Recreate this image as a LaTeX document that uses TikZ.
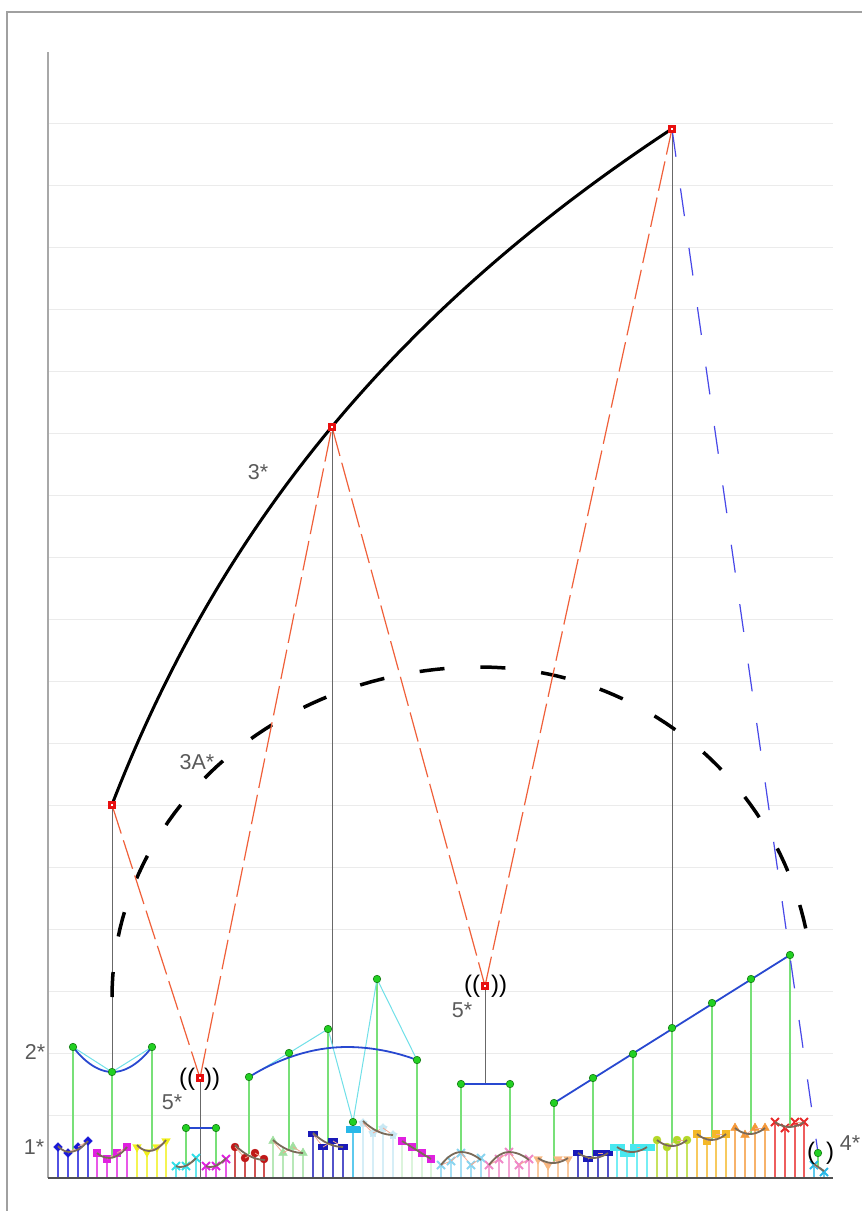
\documentclass[tikz,border=0pt]{standalone}
\usepackage{fontspec}
\setmainfont{Liberation Sans}
\usepackage{tikz}
\usetikzlibrary{
  shapes.geometric,
  shapes.misc
}
\definecolor{frGray}{HTML}{A0A0A0}
\definecolor{grGray}{HTML}{EBEBEB}
\definecolor{axGray}{HTML}{A8A8A8}
\definecolor{axDark}{HTML}{505050}
\definecolor{drGray}{HTML}{686868}
\definecolor{zigRed}{HTML}{F0603A}
\definecolor{dashBlue}{HTML}{4848E8}
\definecolor{sqRed}{HTML}{E81010}
\definecolor{dotGreen}{HTML}{22D022}
\definecolor{stalkGreen}{HTML}{78E078}
\definecolor{fitBlue}{HTML}{2848D0}
\definecolor{polyCyan}{HTML}{70E0E8}
\definecolor{fitBrown}{HTML}{7A6A58}
\definecolor{linkSalmon}{HTML}{F4A890}
\definecolor{lblGray}{HTML}{5A5A5A}
\definecolor{gBlue}{HTML}{1818D8}
\definecolor{gMag}{HTML}{E020E0}
\definecolor{gYel}{HTML}{F0F018}
\definecolor{gCyan}{HTML}{30E0E8}
\definecolor{gDkRed}{HTML}{C01818}
\definecolor{gPaleGrn}{HTML}{A0E0A0}
\definecolor{gNavy}{HTML}{1A1AB8}
\definecolor{gSky}{HTML}{28B8E8}
\definecolor{gIce}{HTML}{C8E8F4}
\definecolor{gPaleStem}{HTML}{D0F0D0}
\definecolor{gLtBlue}{HTML}{88D4F0}
\definecolor{gPink}{HTML}{F088C8}
\definecolor{gPeach}{HTML}{F8B880}
\definecolor{gAqua}{HTML}{48E8F0}
\definecolor{gLime}{HTML}{B4D828}
\definecolor{gAmber}{HTML}{F4B828}
\definecolor{gOrange}{HTML}{F49838}
\definecolor{gRed}{HTML}{E82828}
\tikzset{
  frameline/.style={draw=frGray, line width=1.5pt},
  gridline/.style={draw=grGray, line width=1pt},
  yaxisline/.style={draw=axGray, line width=1.5pt},
  xaxisline/.style={draw=axDark, line width=1.5pt},
  dropline/.style={draw=drGray, line width=1pt},
  stalk/.style={draw=stalkGreen, line width=1.3pt},
  stemline/.style={draw=#1!75, line width=1.3pt},
  linkline/.style={draw=linkSalmon, line width=0.8pt},
  brownfit/.style={draw=fitBrown, line width=1.8pt},
  bluefit/.style={draw=fitBlue, line width=1.8pt},
  cyanpoly/.style={draw=polyCyan, line width=1pt},
  trend/.style={draw=black, line width=3pt},
  trendA/.style={draw=black, line width=3.5pt, dash pattern=on 25pt off 36pt},
  zig/.style={draw=zigRed, line width=1.2pt, dash pattern=on 30pt off 7pt},
  bluedash/.style={draw=dashBlue, line width=1.2pt, dash pattern=on 28pt off 32pt},
  topsq/.style={rectangle, draw=sqRed, fill=white, line width=2.6pt, minimum size=5pt, inner sep=0pt},
  gdot/.style={circle, fill=dotGreen, draw=dotGreen!60!black, line width=0.6pt, minimum size=7.5pt, inner sep=0pt},
  lbl/.style={text=lblGray, font=\fontsize{21.5}{23}\selectfont, inner sep=0pt},
  paren/.style={text=black, font=\fontsize{24}{26}\selectfont, inner sep=0pt},
  mdia/.style={diamond, fill=#1, draw=#1, inner sep=0pt, minimum size=9pt},
  msq/.style={rectangle, fill=#1, draw=#1, inner sep=0pt, minimum size=7pt},
  mcirc/.style={circle, fill=#1, draw=#1, inner sep=0pt, minimum size=8pt},
  mtri/.style={regular polygon, regular polygon sides=3, fill=#1, draw=#1, inner sep=0pt, minimum size=10pt},
  mtrid/.style={mtri=#1, shape border rotate=180},
  mx/.style={cross out, draw=#1, line width=2pt, inner sep=0pt, minimum size=6pt},
  mbar/.style={rectangle, fill=#1, draw=#1, inner sep=0pt, minimum width=9pt, minimum height=5pt},
  mwbar/.style={rectangle, fill=#1, draw=#1, inner sep=0pt, minimum width=14pt, minimum height=6pt},
  mstar/.style={star, star points=5, fill=#1, draw=#1, inner sep=0pt, minimum size=9pt}
}
\newcommand{\stemgroup}[4]{%
  \foreach \sx/\sy [count=\si, remember=\sx as \lx, remember=\sy as \ly] in {#4} {
    \draw[stemline=#1] (\sx,\sy) -- (\sx,1178);
    \ifnum\si>1 \draw[linkline] (\lx,\ly) -- (\sx,\sy); \fi
    \node[#2=#3] (m\sx) at (\sx,\sy) {};
  }}

\begin{document}
\begin{tikzpicture}[x=1pt, y=-1pt]
  \useasboundingbox (0,0) rectangle (862,1211);
  \fill[white] (0,0) rectangle (862,1211);
  \draw[frameline] (862,12) -- (7,12) -- (7,1211);
  \foreach \g in {123,185,...,1115} \draw[gridline] (48,\g) -- (833,\g);
  \draw[yaxisline] (48,52) -- (48,1178);

  \coordinate (pA) at (112,805);
  \coordinate (pB) at (332,427);
  \coordinate (pC) at (672,129);
  \coordinate (pP1) at (200,1078);
  \coordinate (pP2) at (485,986);
  \coordinate (bB) at (332,1048);
  \coordinate (bTop) at (347,1047);
  \coordinate (bP1) at (200,1178);
  \coordinate (bP2) at (485,1084);
  \foreach \n/\x/\y/\b in {1/73/1047/1150, 2/112/1072/1157, 3/152/1047/1150,
      4/186/1128/1165, 5/216/1128/1165, 6/249/1077/1154, 7/289/1053/1149,
      8/328/1029/1143, 9/353/1122/1127, 10/377/979/1130, 11/417/1060/1150,
      12/461/1084/1153, 13/510/1084/1152, 14/554/1103/1163, 15/593/1078/1158,
      16/633/1054/1152, 17/672/1028/1146, 18/712/1003/1140, 19/751/979/1134,
      20/790/955/1127, 21/818/1153/1168} {
    \coordinate (d\n) at (\x,\y);
    \coordinate (f\n) at (\x,\b);
  }

  \draw[dropline] (pA) -- (d2);
  \draw[dropline] (pB) -- (bB);
  \draw[dropline] (pC) -- (d17);
  \draw[dropline] (pP1) -- (bP1);
  \draw[dropline] (pP2) -- (bP2);
  \foreach \n in {1,...,21} \draw[stalk] (d\n) -- (f\n);

  \stemgroup{gBlue}{mdia}{gBlue}{58/1147,68/1153,78/1147,88/1141}
  \stemgroup{gMag}{msq}{gMag}{97/1153,107/1159,117/1153,127/1147}
  \stemgroup{gYel}{mtrid}{gYel}{137/1147,147/1152,157/1147,166/1141}
  \stemgroup{gCyan}{mx}{gCyan}{176/1166,186/1166,196/1158}
  \stemgroup{gMag}{mx}{gMag}{206/1166,216/1166,226/1159}
  \stemgroup{gDkRed}{mcirc}{gDkRed}{235/1147,245/1158,255/1153,264/1159}
  \stemgroup{gPaleGrn}{mtri}{gPaleGrn}{273/1141,283/1153,293/1147,303/1153}
  \stemgroup{gNavy}{mbar}{gNavy}{313/1134,323/1147,333/1141,343/1147}
  \stemgroup{gSky}{mwbar}{gSky}{353/1129}
  \stemgroup{gIce}{mstar}{gIce}{363/1123,373/1133,383/1128,393/1135}
  \stemgroup{gPaleStem}{msq}{gMag}{402/1141,412/1147,422/1153,431/1159}
  \stemgroup{gLtBlue}{mx}{gLtBlue}{441/1165,451/1161,461/1153,471/1165,481/1158}
  \stemgroup{gPink}{mx}{gPink}{489/1165,499/1159,509/1152,519/1165,529/1159}
  \stemgroup{gPeach}{mtrid}{gPeach}{538/1159,548/1165,558/1159,568/1159}
  \stemgroup{gNavy}{mbar}{gNavy}{578/1153,588/1159,598/1153,608/1153}
  \stemgroup{gAqua}{mwbar}{gAqua}{617/1147,627/1153,637/1147,647/1147}
  \stemgroup{gLime}{mcirc}{gLime}{657/1140,667/1147,677/1140,687/1140}
  \stemgroup{gAmber}{msq}{gAmber}{697/1134,707/1141,716/1134,726/1134}
  \stemgroup{gOrange}{mtri}{gOrange}{735/1128,745/1135,755/1128,765/1128}
  \stemgroup{gRed}{mx}{gRed}{775/1122,785/1128,795/1122,804/1122}
  \stemgroup{gSky}{mx}{gSky}{814/1165,824/1172}
  \draw[xaxisline] (48,1178) -- (833,1178);

  \draw[brownfit] (58,1146) parabola bend (69,1152) (88,1141);
  \draw[brownfit] (97,1153) parabola bend (109,1158) (127,1147);
  \draw[brownfit] (137,1145) parabola bend (149,1151) (166,1140);
  \draw[brownfit] (176,1166) parabola bend (180,1167) (196,1158);
  \draw[brownfit] (206,1166) parabola bend (210,1167) (226,1158);
  \draw[brownfit] (265,1160) parabola (235,1145);
  \draw[brownfit] (303,1153) parabola (273,1140);
  \draw[brownfit] (343,1147) parabola (313,1133);
  \draw[brownfit] (393,1135) parabola (363,1121);
  \draw[brownfit] (402,1141) -- (431,1159);
  \draw[brownfit] (441,1165) parabola bend (461,1152) (481,1160);
  \draw[brownfit] (489,1165) parabola bend (509,1152) (529,1160);
  \draw[brownfit] (538,1158) parabola bend (553,1163) (568,1158);
  \draw[brownfit] (578,1153) parabola bend (593,1158) (608,1153);
  \draw[brownfit] (617,1147) parabola bend (632,1152) (647,1147);
  \draw[brownfit] (657,1140) parabola bend (672,1146) (687,1140);
  \draw[brownfit] (697,1134) parabola bend (712,1140) (726,1134);
  \draw[brownfit] (735,1128) parabola bend (750,1134) (765,1128);
  \draw[brownfit] (775,1122) parabola bend (790,1127) (804,1122);
  \draw[brownfit] (814,1164) -- (824,1171);

  \draw[cyanpoly] (d1) -- (d2) -- (d3);
  \draw[cyanpoly] (d6) -- (d7) -- (d8) -- (d9) -- (d10) -- (d11);
  \draw[bluefit] (d1) parabola bend (112.5,1072) (d3);
  \draw[bluefit] (d4) -- (d5);
  \draw[bluefit] (d6) parabola bend (bTop) (d11);
  \draw[bluefit] (d12) -- (d13);
  \draw[bluefit] (d14) -- (d20);

  \draw[trend] plot[domain=112:672, samples=120] (\x, {3407-495*ln(\x+80)});
  \draw[trendA] plot[domain=180:12, samples=100, variable=\t]
    ({480+cos(\t)*(333+35*(\t>90))}, {997-330*sin(\t)});

  \draw[zig] (pA) -- (pP1);
  \draw[zig] (pP1) -- (pB);
  \draw[zig] (pB) -- (pP2);
  \draw[zig] (pP2) -- (pC);
  \draw[bluedash] (pC) -- (d21);

  \foreach \n in {1,...,21} \node[gdot] (g\n) at (d\n) {};
  \node[topsq] (nA) at (pA) {};
  \node[topsq] (nB) at (pB) {};
  \node[topsq] (nC) at (pC) {};
  \node[topsq] (nP1) at (pP1) {};
  \node[topsq] (nP2) at (pP2) {};

  \node[lbl] (l3) at (258,472) {3*};
  \node[lbl] (l3a) at (197,762) {3A*};
  \node[lbl] (l2) at (35,1052) {2*};
  \node[lbl] (l1) at (34,1147) {1*};
  \node[lbl] (l5a) at (172,1102) {5*};
  \node[lbl] (l5b) at (462,1010) {5*};
  \node[lbl] (l4) at (850,1143) {4*};
  \node[paren] (o1) at (187,1079) {((};
  \node[paren] (c1) at (212,1079) {))};
  \node[paren] (o2) at (472,986) {((};
  \node[paren] (c2) at (499,986) {))};
  \node[paren] (o4) at (811,1153) {(};
  \node[paren] (c4) at (830,1153) {)};
\end{tikzpicture}
\end{document}
